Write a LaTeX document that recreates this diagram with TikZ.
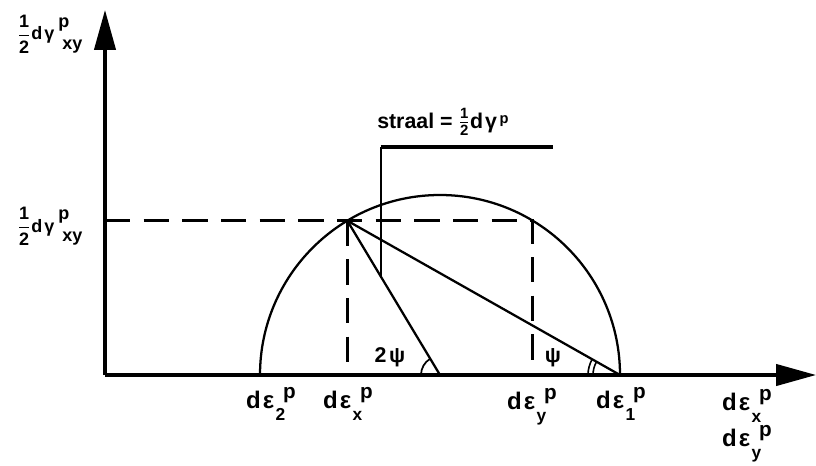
\documentclass[tikz,border=0pt]{standalone}
\usepackage{fontspec}
\setmainfont{Liberation Sans}
\usepackage{amsmath}
\usetikzlibrary{arrows.meta,calc}
\newcommand{\fs}[1]{\fontsize{#1}{#1}\selectfont}
% strain increment with staggered indices
\newcommand{\strn}[1]{d\kern1.5pt ε\kern1pt\raisebox{-9.5pt}{\fs{13}#1}\kern-1.5pt\raisebox{7.5pt}{\fs{15.5}p}}
% half shear strain increment
\newcommand{\halfgam}[1]{$\dfrac{\text{1}}{\text{2}}$\kern0.5pt d\kern1.5pt γ\kern3pt\rlap{\raisebox{9.5pt}{p}}\kern3pt\raisebox{-7pt}{#1}}

\begin{document}
\begin{tikzpicture}[x=0.75pt,y=0.75pt,
  axis/.style={line width=2.4pt,-{Triangle[length=30pt,width=16pt]}},
  curve/.style={line width=1.7pt},
  guide/.style={line width=2.2pt,dash pattern=on 19pt off 10pt},
  lbl/.style={font=\bfseries\fs{18},inner sep=0pt,anchor=base}]
  \useasboundingbox (0,0) rectangle (816,465);

  % axes
  \coordinate (O) at (105,90);
  \coordinate (X) at (816,90);
  \coordinate (Y) at (105,455);
  \draw[axis] (O) -- (X);
  \draw[axis] (O) -- (Y);

  % Mohr circle
  \coordinate (C) at (440,90);
  \coordinate (E2) at (260,90);
  \coordinate (E1) at (620,90);
  \coordinate (P) at ($(C)+(121:180)$);
  \coordinate (Q) at ($(C)+(59:180)$);
  \draw[curve] (E1) arc[start angle=0,end angle=180,radius=180];

  % dashed projections
  \draw[guide] (O |- P) -- (Q) -- (Q |- O);
  \draw[guide] (P) -- (P |- O);

  % radius and pole line
  \draw[curve] (P) -- (C);
  \draw[curve] (P) -- (E1);

  % angle marks
  \draw[line width=1.3pt] ($(C)+(-19,0)$) arc[start angle=180,end angle=121,radius=19];
  \draw[line width=1.2pt] ($(E1)+(-27,0)$) arc[start angle=180,end angle=150.5,radius=27];
  \draw[line width=1.2pt] ($(E1)+(-32,0)$) arc[start angle=180,end angle=150.5,radius=32];

  % straal leader
  \coordinate (S) at ($(P)!0.36!(C)$);
  \coordinate (T) at (553,318);
  \draw[line width=1.7pt] (S) -- (S |- T);
  \draw[line width=2.4pt] (S |- T) -- (T);
  \node[lbl,anchor=base west,font=\bfseries\fs{16}] (straal) at (377,337)
    {straal = $\tfrac{\text{1}}{\text{2}}$d\kern1.5pt γ\kern2pt\raisebox{3pt}{\fs{11}p}};

  % labels
  \node[lbl,font=\bfseries\fs{13.5}] (gtop) at (50,425) {\halfgam{xy}};
  \node[lbl,font=\bfseries\fs{13.5}] (gmid) at (50,233) {\halfgam{xy}};
  \node[lbl,font=\bfseries\fs{16}] (twopsi) at (390,103) {2\kern2pt ψ};
  \node[lbl,font=\bfseries\fs{16}] (psi) at (553,103) {ψ};
  \node[lbl] (e2) at (271,57) {\strn{2}};
  \node[lbl] (ex) at (348,57) {\strn{x}};
  \node[lbl] (ey) at (532,56) {\strn{y}};
  \node[lbl] (e1) at (621,57) {\strn{1}};
  \node[lbl] (axx) at (747,55) {\strn{x}};
  \node[lbl] (axy) at (747,19) {\strn{y}};
\end{tikzpicture}
\end{document}
